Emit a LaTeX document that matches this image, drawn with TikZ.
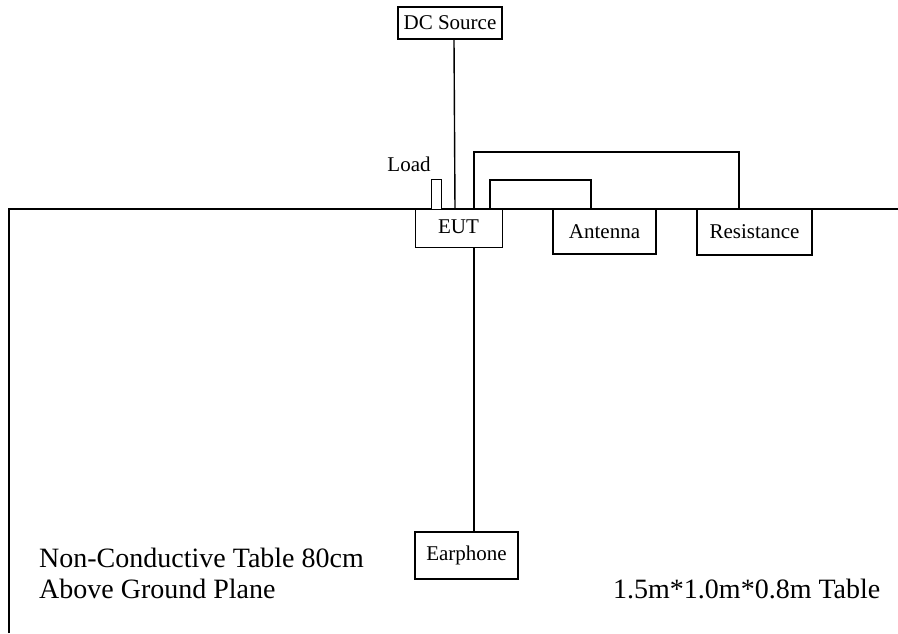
\documentclass[tikz,border=0pt]{standalone}
\usepackage{fontspec}
\setmainfont{Liberation Serif}
\tikzstyle{unit} = [draw=black, line width=1.8pt, fill=white, inner sep=0pt, font={\fontsize{21}{25}\selectfont}]
\tikzstyle{thinunit} = [unit, line width=1pt]
\tikzstyle{wire} = [draw=black, line width=1.4pt]
\tikzstyle{note} = [inner sep=0pt, anchor=base west, font={\fontsize{28}{32}\selectfont}]

\begin{document}
\begin{tikzpicture}[x=1pt,y=-1pt]
        \useasboundingbox (0,0) rectangle (898,633);
        \coordinate(tl) at (9,209);
        \coordinate(tr) at (898,209);
        \coordinate(bl) at (9,633);
        \draw[wire](bl)--(tl)--(tr);
        \node[unit,minimum width=104pt,minimum height=32pt](dc) at (450,23){DC Source};
        \node[thinunit,minimum width=87pt,minimum height=38pt](eut) at (458.5,228){\raisebox{3pt}{EUT}};
        \node[unit,minimum width=103pt,minimum height=45pt](ant) at (604.5,231.5){Antenna};
        \node[unit,minimum width=115pt,minimum height=46pt](res) at (754.5,232){Resistance};
        \node[unit,minimum width=103pt,minimum height=47pt](ear) at (466.5,555.5){Earphone};
        \node[thinunit,minimum width=10pt,minimum height=30pt](load) at (436,194){};
        \node[inner sep=0pt,font={\fontsize{21}{25}\selectfont}](loadlbl) at (409,164){Load};
        \node[note](note1) at (39,567){Non-Conductive Table 80cm};
        \node[note](note2) at (39,598){Above Ground Plane};
        \node[note](size) at (613,598){1.5m*1.0m*0.8m Table};
        \draw[wire]([xshift=4pt]dc.south)--([xshift=-3.5pt]eut.north);
        \draw[wire]([xshift=15.5pt]eut.north)|-(739,152)--([xshift=-15.5pt]res.north);
        \draw[wire]([xshift=31.5pt]eut.north)|-(591,180)--([xshift=-13.5pt]ant.north);
        \draw[wire]([xshift=15.5pt]eut.south)--([xshift=7.5pt]ear.north);
\end{tikzpicture}
\end{document}
